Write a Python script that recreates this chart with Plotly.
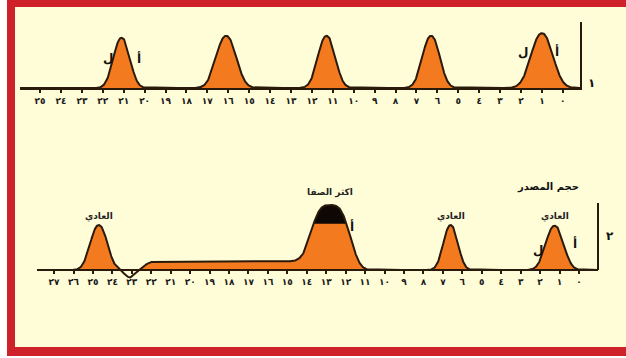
import numpy as np
import plotly.graph_objects as go

W, H = 626, 358

# ---------------- data ----------------
top_days = list(range(26))
top_tick_labels = ["٠", "١", "٢", "٣", "٤", "٥", "٦", "٧", "٨", "٩", "١٠", "١١", "١٢",
                   "١٣", "١٤", "١٥", "١٦", "١٧", "١٨", "١٩", "٢٠", "٢١", "٢٢", "٢٣", "٢٤", "٢٥"]
bottom_days = list(range(28))
bottom_tick_labels = ["٠", "١", "٢", "٣", "٤", "٥", "٦", "٧", "٨", "٩", "١٠", "١١", "١٢", "١٣",
                      "١٤", "١٥", "١٦", "١٧", "١٨", "١٩", "٢٠", "٢١", "٢٢", "٢٣", "٢٤", "٢٥", "٢٦", "٢٧"]

# panel 1 : five normal peaks
top_peak_center = [21.1, 16.1, 11.3, 6.3, 1.0]
top_peak_height = [0.76, 0.79, 0.79, 0.79, 0.83]
top_peak_halfwidth = [0.95, 1.15, 1.0, 1.0, 1.25]

# panel 2 : peaks, dip and plateau
bottom_peak_center = [24.7, 12.8, 6.6, 1.25]
bottom_peak_height = [0.67, 0.97, 0.67, 0.66]
bottom_peak_halfwidth = [1.05, 1.75, 0.9, 1.1]
bottom_peak_label = ["العادي", "اكثر الصفا", "العادي", "العادي"]
dip_center, dip_depth, dip_halfwidth = 23.1, -0.11, 0.67
plateau_start, plateau_end, plateau_height = 22.35, 14.2, 0.13
black_cap_level = 0.69

panel_numbers = ["١", "٢"]
side_title = "حجم المصدر"

# ---------------- styles ----------------
ORANGE = "#F47A1F"
OUTLINE = "#2a1a0c"
CREAM = "#FFFCD8"
RED = "#CE2129"
FONT = "DejaVu Sans"


def px_x(p):
    return p / W


def px_y(p):
    return 1 - p / H


def bump(x, c, h, hw, p=2.2):
    s = hw / (np.log(33.0)) ** (1.0 / p)
    return h * np.exp(-(np.abs(x - c) / s) ** p)


def sig(x):
    return 1.0 / (1.0 + np.exp(-x))


fig = go.Figure()

# ---- top panel ----
xt = np.linspace(-0.82, 25.96, 1500)
yt = np.zeros_like(xt)
for c, h, hw in zip(top_peak_center, top_peak_height, top_peak_halfwidth):
    yt += bump(xt, c, h, hw)
fig.add_trace(go.Scatter(x=xt, y=yt, mode="lines", fill="tozeroy", fillcolor=ORANGE,
                         line=dict(color=OUTLINE, width=2), xaxis="x", yaxis="y",
                         hoverinfo="skip", showlegend=False))

# ---- bottom panel ----
xb = np.linspace(-0.98, 27.88, 1800)
yb = np.zeros_like(xb)
for i, (c, h, hw) in enumerate(zip(bottom_peak_center, bottom_peak_height, bottom_peak_halfwidth)):
    yb += bump(xb, c, h, hw, p=3.2 if i == 1 else 2.2)
yb += bump(xb, dip_center, dip_depth, dip_halfwidth, p=2.0)
k = 0.15
yb += plateau_height * (sig((plateau_start - xb) / k) - sig((plateau_end - xb) / k)) * (
    (xb < plateau_start + 0.6) & (xb > plateau_end - 0.6))
ypos = np.maximum(yb, 0)
fig.add_trace(go.Scatter(x=xb, y=ypos, mode="lines", fill="tozeroy", fillcolor="#0d0805",
                         line=dict(width=0), xaxis="x2", yaxis="y2",
                         hoverinfo="skip", showlegend=False))
fig.add_trace(go.Scatter(x=xb, y=np.minimum(ypos, black_cap_level), mode="lines", fill="tozeroy",
                         fillcolor=ORANGE, line=dict(width=0), xaxis="x2", yaxis="y2",
                         hoverinfo="skip", showlegend=False))
fig.add_trace(go.Scatter(x=xb, y=yb, mode="lines", line=dict(color=OUTLINE, width=2),
                         xaxis="x2", yaxis="y2", hoverinfo="skip", showlegend=False))

# ---- annotations ----
ann = []
for c, h, lab in zip(bottom_peak_center, bottom_peak_height, bottom_peak_label):
    ann.append(dict(x=c, y=h, xref="x2", yref="y2", text="<b>%s</b>" % lab, showarrow=False,
                    yshift=13 if lab != "العادي" else 9, font=dict(family=FONT, size=9, color="#222")))
# small hand-drawn marks beside some peaks
marks = [("x", "y", top_peak_center[0], 0.45, -14, "ل"), ("x", "y", top_peak_center[0], 0.45, 17, "أ"),
         ("x", "y", top_peak_center[4], 0.55, -19, "ل"), ("x", "y", top_peak_center[4], 0.55, 15, "أ"),
         ("x2", "y2", bottom_peak_center[1], 0.65, 22, "أ"),
         ("x2", "y2", bottom_peak_center[3], 0.30, -17, "ل"), ("x2", "y2", bottom_peak_center[3], 0.40, 20, "أ")]
for xr, yr, c, yv, dx, t in marks:
    ann.append(dict(x=c, y=yv, xref=xr, yref=yr, xshift=dx, text="<b>%s</b>" % t, showarrow=False,
                    font=dict(family=FONT, size=12, color="#111")))
ann.append(dict(x=px_x(597), y=px_y(74), xref="paper", yref="paper", text="<b>%s</b>" % panel_numbers[0],
                showarrow=False, font=dict(family=FONT, size=12, color="#111")))
ann.append(dict(x=px_x(616), y=px_y(245), xref="paper", yref="paper", text="<b>%s</b>" % panel_numbers[1],
                showarrow=False, font=dict(family=FONT, size=12, color="#111")))
ann.append(dict(x=px_x(581), y=px_y(187), xref="paper", yref="paper", text="<b>%s</b>" % side_title,
                showarrow=False, font=dict(family=FONT, size=10, color="#111")))

shapes = [
    dict(type="rect", xref="paper", yref="paper", x0=px_x(7), x1=px_x(640), y0=px_y(356), y1=px_y(-5),
         fillcolor=RED, line=dict(width=0), layer="below"),
    dict(type="rect", xref="paper", yref="paper", x0=px_x(15), x1=px_x(640), y0=px_y(347), y1=px_y(7),
         fillcolor=CREAM, line=dict(width=0), layer="below"),
    dict(type="line", xref="x2 domain", yref="y2", x0=1, x1=1, y0=0, y1=1,
         line=dict(color=OUTLINE, width=2)),
]

axis_common = dict(showgrid=False, zeroline=False, showline=True, linecolor=OUTLINE, linewidth=2,
                   ticks="outside", ticklen=3, tickwidth=2, tickcolor=OUTLINE,
                   tickfont=dict(family=FONT, size=9, color="#1a1a1a", weight="bold"))

fig.update_layout(
    width=W, height=H, margin=dict(l=0, r=0, t=0, b=0),
    paper_bgcolor="white", plot_bgcolor="rgba(0,0,0,0)",
    showlegend=False,
    xaxis=dict(domain=[px_x(20), px_x(580)], range=[25.96, -0.82], anchor="y",
               tickvals=top_days, ticktext=top_tick_labels, **axis_common),
    yaxis=dict(domain=[px_y(88), px_y(22)], range=[0, 1], anchor="x", side="right",
               showgrid=False, zeroline=False, showline=True, linecolor=OUTLINE, linewidth=2,
               showticklabels=False, ticks=""),
    xaxis2=dict(domain=[px_x(37), px_x(598)], range=[27.88, -0.98], anchor="free",
                position=px_y(270), tickvals=bottom_days, ticktext=bottom_tick_labels, **axis_common),
    yaxis2=dict(domain=[px_y(282), px_y(203)], range=[-0.179, 1.0], anchor="x2",
                showgrid=False, zeroline=False, showline=False, showticklabels=False, ticks=""),
    annotations=ann, shapes=shapes,
)

fig.write_html("out.html", config={"displayModeBar": False},
               post_script="document.body.style.margin='0';document.body.style.overflow='hidden';")
